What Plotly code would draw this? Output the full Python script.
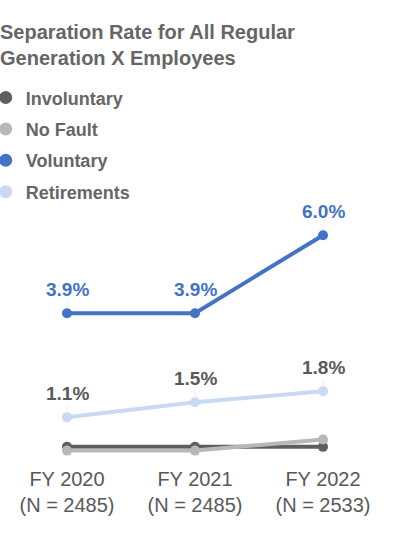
import plotly.graph_objects as go

categories = ["FY 2020<br>(N = 2485)", "FY 2021<br>(N = 2485)", "FY 2022<br>(N = 2533)"]
involuntary = [0.3, 0.3, 0.3]
no_fault = [0.2, 0.2, 0.5]
voluntary = [3.9, 3.9, 6.0]
retirements = [1.1, 1.5, 1.8]

series = [
    ("Involuntary", involuntary, "#5e5e5e", None),
    ("No Fault", no_fault, "#b8b8b8", None),
    ("Voluntary", voluntary, "#4472C4", "#4472C4"),
    ("Retirements", retirements, "#c9d9f3", "#595959"),
]

FONT = "Liberation Sans, Arial, sans-serif"
x_idx = list(range(len(categories)))

fig = go.Figure()
for name, vals, color, lab in series:
    fig.add_trace(go.Scatter(
        x=x_idx, y=vals, mode="lines+markers", name=name,
        line=dict(color=color, width=4), marker=dict(color=color, size=10),
        showlegend=False, hoverinfo="skip"))
for name, vals, color, lab in series:
    fig.add_trace(go.Scatter(
        x=[None], y=[None], mode="markers", name=name, legendgroup=name,
        marker=dict(color=color, size=13), showlegend=True))

annotations = []
for name, vals, color, lab in series:
    if lab is None:
        continue
    for xi, v in zip(x_idx, vals):
        annotations.append(dict(
            x=xi, y=v, xref="x", yref="y", text=f"<b>{v:.1f}%</b>",
            showarrow=True, ax=0, ay=-24, arrowhead=0, arrowwidth=1,
            arrowcolor="#ececec", standoff=5,
            font=dict(family=FONT, size=19, color=lab)))

fig.update_layout(
    width=399, height=543,
    margin=dict(l=3, r=12, t=215, b=78, autoexpand=False),
    paper_bgcolor="white", plot_bgcolor="white",
    font=dict(family=FONT, color="#595959"),
    title=dict(text="<b>Separation Rate for All Regular<br>Generation X Employees</b>",
               x=0, xref="container", xanchor="left", y=0.928, yref="container", yanchor="top",
               pad=dict(l=0, r=0, t=0, b=0),
               font=dict(family=FONT, size=20, color="#666666")),
    legend=dict(x=-0.045, y=0.854, xref="paper", yref="container", xanchor="left", yanchor="top",
                bgcolor="rgba(0,0,0,0)", tracegroupgap=5,
                font=dict(family=FONT, size=18, color="#666666", weight="bold"),
                itemclick=False, itemdoubleclick=False),
    xaxis=dict(tickvals=x_idx, ticktext=categories, range=[-0.5, 2.5],
               showgrid=False, zeroline=False, showline=False, ticks="",
               tickfont=dict(family=FONT, size=20, color="#595959")),
    yaxis=dict(range=[-0.188, 6.543], showgrid=False, zeroline=False,
               showline=False, showticklabels=False, ticks=""),
    annotations=annotations,
    showlegend=True,
)

fig.write_html("out.html", config={"displayModeBar": False},
               post_script="document.body.style.margin='0';")
